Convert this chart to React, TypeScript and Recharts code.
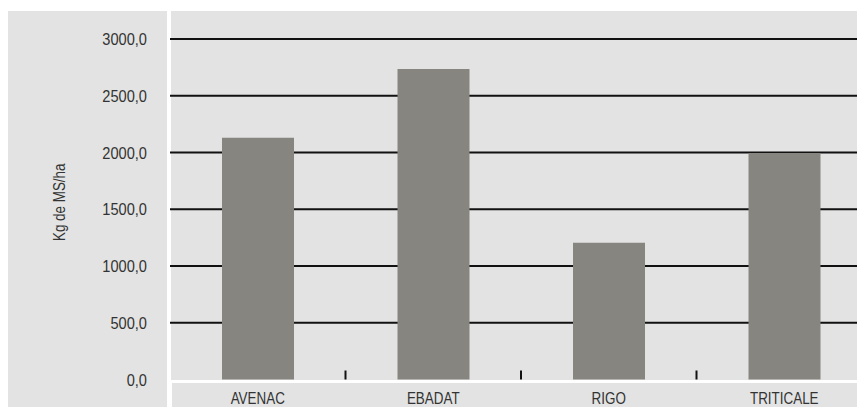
import React from "react";
import { BarChart, Bar, XAxis, YAxis, CartesianGrid } from "recharts";

const categories = ["AVENAC", "EBADAT", "RIGO", "TRITICALE"];
const values = [2130, 2735, 1205, 1995];
const yTicks = [0, 500, 1000, 1500, 2000, 2500, 3000];
const gridValues = [500, 1000, 1500, 2000, 2500, 3000];
const yLabel = "Kg de MS/ha";

const data = categories.map((c, i) => ({ name: c, value: values[i] }));

const FONT = "'Liberation Sans', Arial, sans-serif";
const SQUEEZE_NUM = 0.86;
const SQUEEZE_TXT = 0.79;
const PANEL = "#e2e3e2";
const TEXT = "#333";

const fmt = (v: number) => v.toFixed(1).replace(".", ",");

const YTick = (props: any) => {
  const { x, y, payload } = props;
  return (
    <text
      transform={`translate(${x},${y}) scale(${SQUEEZE_NUM},1)`}
      textAnchor="end"
      dy="0.355em"
      fill={TEXT}
      fontSize={17}
      fontFamily={FONT}
    >
      {fmt(payload.value)}
    </text>
  );
};

const XTick = (props: any) => {
  const { x, y, payload, index, width } = props;
  const axisWidth = typeof width === "number" ? width : 702;
  const half = axisWidth / categories.length / 2;
  const isLast = index === categories.length - 1;
  return (
    <g>
      {!isLast && (
        <line x1={x + half} x2={x + half} y1={y - 9} y2={y} stroke="#111" strokeWidth={2} />
      )}
      <text
        transform={`translate(${x},${y + 12.5}) scale(${SQUEEZE_TXT},1)`}
        textAnchor="middle"
        dy="0.71em"
        fill={TEXT}
        fontSize={17}
        fontFamily={FONT}
      >
        {payload.value}
      </text>
    </g>
  );
};

const YLabel = (props: any) => {
  const vb = props.viewBox || { x: 0, y: 0, width: 0, height: 0 };
  const cx = vb.x + 57;
  const cy = vb.y + vb.height / 2 - 7;
  return (
    <text
      transform={`translate(${cx},${cy}) rotate(-90) scale(${SQUEEZE_TXT},1)`}
      textAnchor="middle"
      fill={TEXT}
      fontSize={17}
      fontFamily={FONT}
    >
      {yLabel}
    </text>
  );
};

export default function App() {
  return (
    <div style={{ position: "relative", width: 857, height: 399, overflow: "hidden" }}>
      <div style={{ position: "absolute", left: 0, top: 3, width: 159, height: 396, background: PANEL }} />
      <div style={{ position: "absolute", left: 163, top: 3, width: 694, height: 368.5, background: PANEL }} />
      <div style={{ position: "absolute", left: 164, top: 375, width: 693, height: 24, background: PANEL }} />
      <div style={{ position: "absolute", left: 0, top: 0 }}>
        <BarChart
          width={880}
          height={399}
          data={data}
          margin={{ top: 31, right: 16, bottom: 6.5, left: 0 }}
        >
          <CartesianGrid
            vertical={false}
            horizontalValues={gridValues}
            stroke="#111"
            strokeWidth={2}
          />
          <XAxis
            dataKey="name"
            axisLine={false}
            tickLine={false}
            tickSize={0}
            tickMargin={0}
            height={21}
            interval={0}
            tick={<XTick />}
          />
          <YAxis
            width={162}
            domain={[0, 3000]}
            ticks={yTicks}
            interval={0}
            axisLine={false}
            tickLine={false}
            tickSize={0}
            tickMargin={23}
            tick={<YTick />}
            label={<YLabel />}
          />
          <Bar dataKey="value" fill="#878580" barSize={72} isAnimationActive={false} />
        </BarChart>
      </div>
    </div>
  );
}
